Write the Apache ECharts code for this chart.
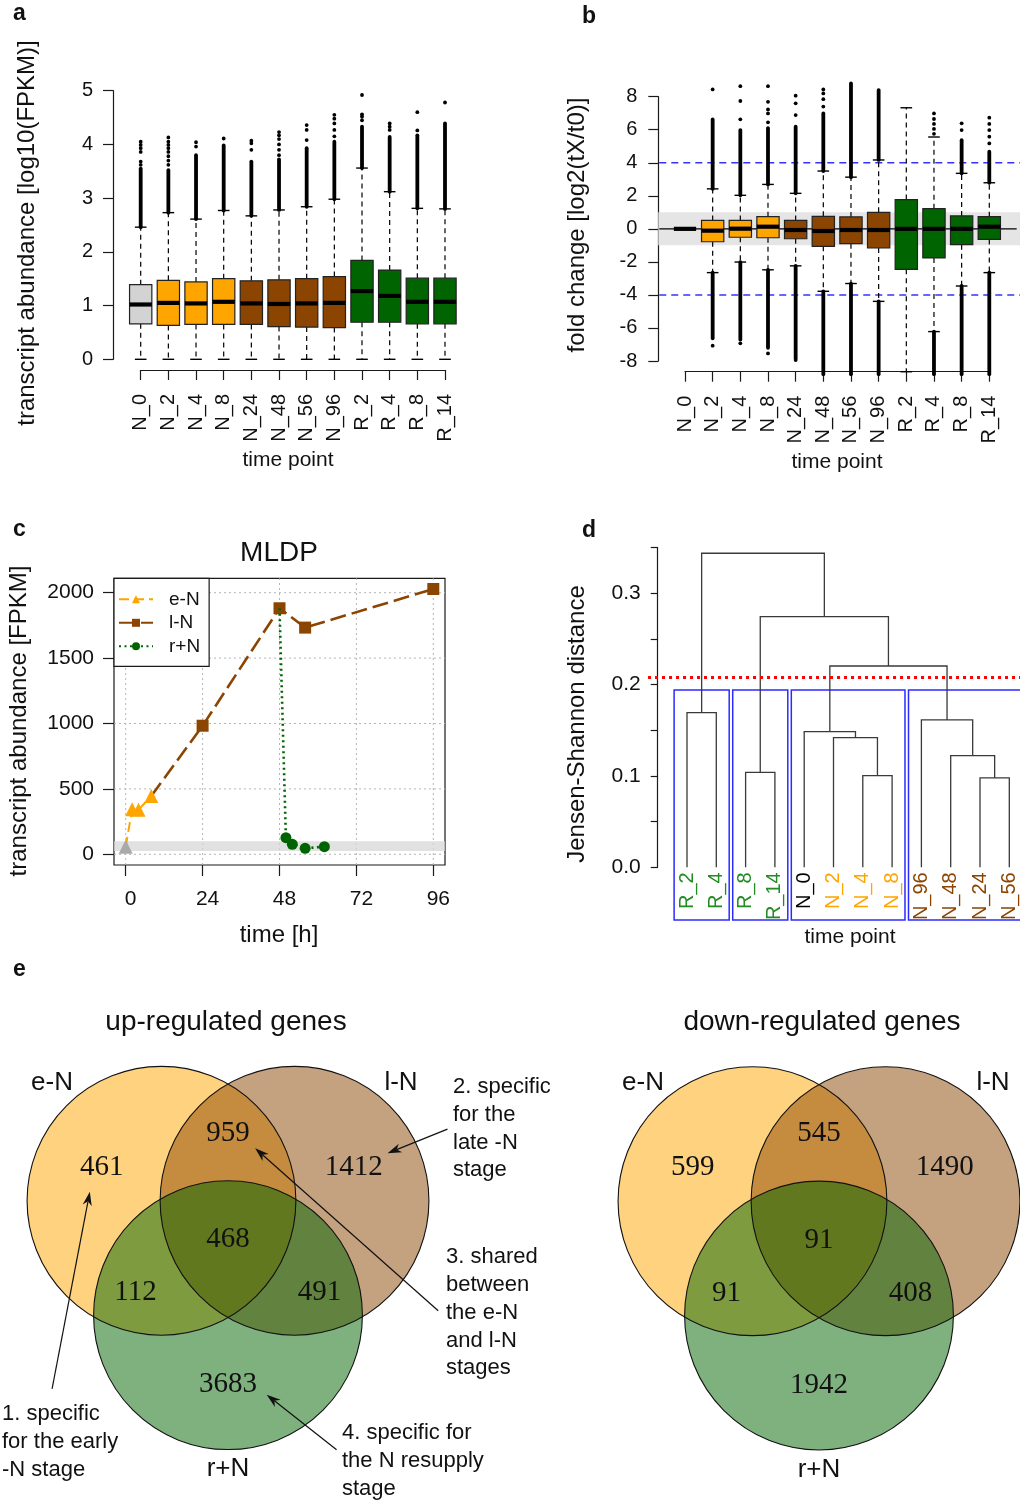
<!DOCTYPE html>
<html><head><meta charset="utf-8">
<script src="https://cdn.jsdelivr.net/npm/echarts@6/dist/echarts.min.js"></script>
<style>html,body{margin:0;padding:0;background:#fff}#c{width:1020px;height:1505px}</style>
</head><body><div id="c"></div>
<script>
// ---------------- DATA ----------------
const timePoints = ['N_0','N_2','N_4','N_8','N_24','N_48','N_56','N_96','R_2','R_4','R_8','R_14'];

// Panel a: log10(FPKM) boxes [lower whisker, Q1, median, Q3, upper whisker]
const abundanceBoxes = [
  [0, 0.66, 1.02, 1.39, 2.46],
  [0, 0.63, 1.05, 1.47, 2.73],
  [0, 0.65, 1.04, 1.44, 2.61],
  [0, 0.65, 1.07, 1.50, 2.77],
  [0, 0.65, 1.04, 1.46, 2.67],
  [0, 0.61, 1.03, 1.48, 2.78],
  [0, 0.60, 1.04, 1.50, 2.84],
  [0, 0.59, 1.05, 1.54, 2.98],
  [0, 0.69, 1.27, 1.84, 3.56],
  [0, 0.69, 1.18, 1.66, 3.12],
  [0, 0.66, 1.07, 1.51, 2.81],
  [0, 0.66, 1.07, 1.51, 2.80]
];
const abundanceDenseHigh = [[2.46,3.55],[2.73,3.52],[2.61,3.80],[2.77,3.98],[2.67,3.68],[2.78,3.72],[2.84,3.93],[2.98,4.05],[3.56,4.33],[3.12,4.14],[2.81,4.17],[2.80,4.39]];
const abundanceSparseHigh = [
  [3.62,3.68,3.86,3.93,3.99,4.05],
  [3.62,3.70,3.78,3.86,3.93,3.99,4.05,4.13],
  [3.96,4.04],
  [4.11],
  [3.90,4.02,4.07],
  [3.80,3.90,4.00,4.10,4.17,4.23],
  [4.08,4.27,4.36],
  [4.15,4.27,4.39,4.48,4.55],
  [4.45,4.52,4.56,4.92],
  [4.27,4.33,4.39],
  [4.26,4.60],
  [4.78]
];

// Panel b: log2 fold change boxes [lower whisker, Q1, median, Q3, upper whisker]
const foldBoxes = [
  [0, 0, 0, 0, 0],
  [-2.65, -0.78, -0.11, 0.51, 2.42],
  [-2.01, -0.51, 0.01, 0.51, 2.03],
  [-2.48, -0.54, 0.13, 0.74, 2.69],
  [-2.24, -0.60, -0.07, 0.51, 2.15],
  [-3.78, -1.06, -0.13, 0.76, 3.50],
  [-3.31, -0.90, -0.07, 0.72, 3.13],
  [-4.39, -1.16, -0.07, 1.00, 4.17],
  [-8.65, -2.45, 0.00, 1.77, 7.33],
  [-6.22, -1.76, 0.00, 1.22, 5.56],
  [-3.46, -0.96, 0.00, 0.78, 3.36],
  [-2.65, -0.64, 0.13, 0.74, 2.79]
];
const foldDenseHigh = [null,[2.42,6.62],[2.03,5.98],[2.69,6.10],[2.15,6.18],[3.50,6.99],[3.13,8.80],[4.17,8.40],null,null,[3.36,5.37],[2.79,4.67]];
const foldSparseHigh = [[],[8.44],[6.63,7.74,8.64],[6.45,6.99,7.23,7.69,8.64],[6.89,7.60,8.06],[7.40,7.85,8.20,8.44],[],[],[],[5.75,6.05,6.35,6.65,6.99],[5.98,6.39],[5.17,5.58,5.98,6.35,6.73]];
const foldDenseLow = [null,[-6.63,-2.65],[-6.70,-2.01],[-7.20,-2.48],[-7.84,-2.24],[-8.80,-3.78],[-8.80,-3.31],[-8.80,-4.39],null,[-8.80,-6.22],[-8.80,-3.46],[-8.80,-2.65]];
const foldSparseLow = [[],[-7.07],[-6.93],[-7.54],[-7.94],[],[],[],[],[],[],[]];
const foldBand = [-1, 1];
const foldThresholds = [-4, 4];

// Panel c: MLDP abundance [time h, FPKM]
const mldpControl = [0, 58];
const mldpEarly = [[2, 344], [4, 340], [8, 446]];
const mldpLate = [[24, 983], [48, 1881], [56, 1733], [96, 2028]];
const mldpResupply = [[50, 127], [52, 76], [56, 46], [62, 58]];
const mldpBand = [25, 100];
const mldpXTicks = [0, 24, 48, 72, 96];
const mldpYTicks = [0, 500, 1000, 1500, 2000];

// Panel d: dendrogram
const dendroLeaves = ['R_2','R_4','R_8','R_14','N_0','N_2','N_4','N_8','N_96','N_48','N_24','N_56'];
// hclust-style merges: negative = leaf position (1-based), positive = earlier merge
const dendroMerges = [
  [-7, -8, 0.1004],
  [-11, -12, 0.0978],
  [-3, -4, 0.1040],
  [-10, 2, 0.1223],
  [-6, 1, 0.1420],
  [-5, 5, 0.1485],
  [-9, 4, 0.1613],
  [-1, -2, 0.1693],
  [6, 7, 0.2204],
  [3, 9, 0.2745],
  [8, 10, 0.3438]
];
const dendroCut = 0.2077;
const dendroClusters = [[1, 2], [3, 4], [5, 8], [9, 12]];

// Panel e: Venn counts [e only, l only, r only, e&l, e&r, l&r, all]
const vennSets = ['e-N', 'l-N', 'r+N'];
const upRegulated = [461, 1412, 3683, 959, 112, 491, 468];
const downRegulated = [599, 1490, 1942, 545, 91, 408, 91];

// ---------------- STYLE / LAYOUT ----------------
const FONT = '"Liberation Sans", Arial, Helvetica, sans-serif';
const SERIF = '"Liberation Serif", "Times New Roman", serif';
const INK = '#1a1a1a';
const C_ORANGE = '#FFA500', C_BROWN = '#8B4500', C_GREEN = '#006400', C_GRAY = '#D3D3D3';
const boxFill = [C_GRAY, C_ORANGE, C_ORANGE, C_ORANGE, C_BROWN, C_BROWN, C_BROWN, C_BROWN, C_GREEN, C_GREEN, C_GREEN, C_GREEN];
const leafColor = n => n[0] === 'R' ? '#228B22' : (n === 'N_0' ? '#000' : (['N_2','N_4','N_8'].includes(n) ? C_ORANGE : C_BROWN));
const vennFill = ['rgba(255,165,0,0.5)', 'rgba(139,69,0,0.5)', 'rgba(0,100,0,0.5)'];
const VU = 134.4;
const vennLayout = {
  centers: [[-0.495, 0], [0.495, 0], [0, 0.851]],
  regions: [[-0.94, -0.25], [0.935, -0.25], [0, 1.367], [0, -0.505], [-0.688, 0.683], [0.68, 0.683], [0, 0.288]]
};
const arrowLayout = [
  [-1.309, 1.400, -1.028, -0.068],
  [1.633, -0.533, 1.187, -0.354],
  [1.564, 0.818, 0.202, -0.391],
  [0.808, 1.852, 0.288, 1.443]
];

// ---------------- HELPERS ----------------
const axLine = {color: INK, width: 1.2};
const plainNum = v => String(v);
function catXAxis(gi, offset) {
  return {gridIndex: gi, type: 'value', min: 0, max: 11, interval: 1, position: 'bottom', offset,
    axisLine: {show: true, onZero: false, lineStyle: axLine},
    axisTick: {show: true, length: 10, lineStyle: axLine},
    axisLabel: {show: true, rotate: 90, margin: 24, fontSize: 20, color: '#111', fontFamily: FONT,
      formatter: v => timePoints[Math.round(v)] || ''},
    splitLine: {show: false}};
}
function valYAxis(gi, min, max, interval, offset, extra) {
  return Object.assign({gridIndex: gi, type: 'value', min, max, interval, position: 'left', offset,
    axisLine: {show: true, onZero: false, lineStyle: axLine},
    axisTick: {show: true, length: 10, lineStyle: axLine},
    axisLabel: {show: true, margin: 20, fontSize: 20, color: '#111', fontFamily: FONT, formatter: plainNum},
    splitLine: {show: false}}, extra || {});
}

function boxSeries(gi, boxes, denseHi, sparseHi, denseLo, sparseLo) {
  return {
    type: 'custom', xAxisIndex: gi, yAxisIndex: gi, clip: false, silent: true, z: 5,
    data: boxes.map((b, i) => [i].concat(b)),
    encode: {x: 0, y: [1, 2, 3, 4, 5]},
    renderItem(params, api) {
      const i = params.dataIndex;
      const lo = api.value(1), q1 = api.value(2), med = api.value(3), q3 = api.value(4), hi = api.value(5);
      const xc = api.coord([i, 0])[0];
      const py = v => api.coord([i, v])[1];
      const unit = Math.abs(api.size([1, 0])[0]);
      const hw = unit * 0.403, cw = unit * 0.21;
      const kids = [];
      const vline = (a, b, w, dash) => ({type: 'line', shape: {x1: xc, y1: py(a), x2: xc, y2: py(b)},
        style: {stroke: '#000', lineWidth: w, lineDash: dash || null, lineCap: dash ? 'butt' : 'round'}});
      const hline = (v, half, w, col) => ({type: 'line', shape: {x1: xc - half, y1: py(v), x2: xc + half, y2: py(v)},
        style: {stroke: col || '#000', lineWidth: w}});
      [denseHi[i], denseLo[i]].forEach(d => { if (d) kids.push(vline(d[0], d[1], 3.8)); });
      [].concat(sparseHi[i] || [], sparseLo[i] || []).forEach(v => {
        kids.push({type: 'circle', shape: {cx: xc, cy: py(v), r: 1.9}, style: {fill: '#000'}});
      });
      if (hi > q3) { kids.push(vline(q3, hi, 1.2, [5, 4])); kids.push(hline(hi, cw, 1.4)); }
      if (lo < q1) { kids.push(vline(q1, lo, 1.2, [5, 4])); kids.push(hline(lo, cw, 1.4)); }
      if (q3 > q1) {
        kids.push({type: 'rect', shape: {x: xc - hw, y: py(q3), width: 2 * hw, height: py(q1) - py(q3)},
          style: {fill: boxFill[i], stroke: '#222', lineWidth: 1.2}});
      }
      kids.push(hline(med, hw, 4.2));
      return {type: 'group', children: kids};
    }
  };
}

// dendrogram node positions
const nodeX = [], nodeH = [];
function childPos(c) { return c < 0 ? [-c, 0] : [nodeX[c - 1], nodeH[c - 1]]; }
dendroMerges.forEach((m, k) => { const a = childPos(m[0]), b = childPos(m[1]); nodeX[k] = (a[0] + b[0]) / 2; nodeH[k] = m[2]; });

function vennSeries(gi, counts) {
  const fills = {
    type: 'custom', xAxisIndex: gi, yAxisIndex: gi, clip: false, silent: true, z: 2,
    data: vennLayout.centers.map(c => [c[0], c[1]]),
    renderItem(p, api) {
      const c = api.coord([api.value(0), api.value(1)]);
      const r = Math.abs(api.size([1, 1])[0]);
      return {type: 'circle', shape: {cx: c[0], cy: c[1], r}, style: {fill: vennFill[p.dataIndex]}};
    }
  };
  const outlines = {
    type: 'custom', xAxisIndex: gi, yAxisIndex: gi, clip: false, silent: true, z: 3,
    data: vennLayout.centers.map(c => [c[0], c[1]]),
    renderItem(p, api) {
      const c = api.coord([api.value(0), api.value(1)]);
      const r = Math.abs(api.size([1, 1])[0]);
      return {type: 'circle', shape: {cx: c[0], cy: c[1], r}, style: {fill: null, stroke: '#111', lineWidth: 1.1}};
    }
  };
  const nums = {
    type: 'custom', xAxisIndex: gi, yAxisIndex: gi, clip: false, silent: true, z: 4,
    data: counts.map((n, k) => [vennLayout.regions[k][0], vennLayout.regions[k][1], n]),
    renderItem(p, api) {
      const c = api.coord([api.value(0), api.value(1)]);
      return {type: 'text', x: c[0], y: c[1], style: {text: String(api.value(2)), fontFamily: SERIF, fontSize: 29,
        fill: '#111', align: 'center', verticalAlign: 'middle'}};
    }
  };
  return [fills, outlines, nums];
}

const arrowSeries = {
  type: 'custom', xAxisIndex: 4, yAxisIndex: 4, clip: false, silent: true, z: 6,
  data: arrowLayout,
  renderItem(p, api) {
    const s = api.coord([api.value(0), api.value(1)]);
    const e = api.coord([api.value(2), api.value(3)]);
    const dx = e[0] - s[0], dy = e[1] - s[1], L = Math.hypot(dx, dy);
    const ux = dx / L, uy = dy / L, nx = -uy, ny = ux;
    const hl = 14, hw = 4.6;
    const base = [e[0] - ux * hl, e[1] - uy * hl];
    const notch = [e[0] - ux * hl * 0.7, e[1] - uy * hl * 0.7];
    return {type: 'group', children: [
      {type: 'line', shape: {x1: s[0], y1: s[1], x2: notch[0], y2: notch[1]}, style: {stroke: '#111', lineWidth: 1.2}},
      {type: 'polygon', shape: {points: [e, [base[0] + nx * hw, base[1] + ny * hw], notch, [base[0] - nx * hw, base[1] - ny * hw]]},
        style: {fill: '#111'}}
    ]};
  }
};

function txt(text, x, y, size, o) {
  o = o || {};
  const style = {text, fontSize: size, fontFamily: FONT, fill: o.color || '#111', align: o.align || 'center',
    verticalAlign: o.va || 'middle', fontWeight: o.weight || 'normal'};
  if (o.lh) style.lineHeight = o.lh;
  return {type: 'text', x, y, rotation: o.rot || 0, silent: true, z: 50, style};
}
const R90 = Math.PI / 2;

// ---------------- OPTION ----------------
const option = {
  animation: false,
  backgroundColor: '#fff',
  textStyle: {fontFamily: FONT},
  grid: [
    {left: 140.7, top: 90.7, width: 304.3, height: 268.6, outerBoundsMode: 'none', containLabel: false},
    {left: 685, top: 96.7, width: 304.3, height: 264.3, outerBoundsMode: 'none', containLabel: false},
    {left: 114, top: 578.3, width: 331, height: 286.7, show: true, borderColor: INK, borderWidth: 1.2, backgroundColor: 'transparent', outerBoundsMode: 'none', containLabel: false},
    {left: 657.7, top: 547.6, width: 380.9, height: 319.7, outerBoundsMode: 'none', containLabel: false},
    {left: 228 - 1.6 * VU, top: 1200.8 - 1.45 * VU, width: 3.2 * VU, height: 3.6 * VU, outerBoundsMode: 'none', containLabel: false},
    {left: 819 - 1.6 * VU, top: 1201.2 - 1.45 * VU, width: 3.2 * VU, height: 3.6 * VU, outerBoundsMode: 'none', containLabel: false}
  ],
  xAxis: [
    catXAxis(0, 10.7),
    catXAxis(1, 10.7),
    {gridIndex: 2, type: 'value', min: -3.652, max: 99.65, position: 'bottom',
      axisLine: {show: false, onZero: false},
      axisTick: {show: true, length: 11, customValues: mldpXTicks, lineStyle: axLine},
      axisLabel: {show: true, customValues: mldpXTicks, margin: 24, fontSize: 21, color: '#111', fontFamily: FONT, padding: [0, 0, 0, 10], formatter: plainNum},
      splitLine: {show: false}},
    {gridIndex: 3, type: 'value', min: 0, max: 13, show: false},
    {gridIndex: 4, type: 'value', min: -1.6, max: 1.6, show: false},
    {gridIndex: 5, type: 'value', min: -1.6, max: 1.6, show: false}
  ],
  yAxis: [
    valYAxis(0, 0, 5, 1, 27.7),
    valYAxis(1, -8, 8, 2, 26.7, {axisLabel: {show: true, margin: 21, fontSize: 20, color: '#111', fontFamily: FONT, formatter: plainNum}}),
    {gridIndex: 2, type: 'value', min: -81.8, max: 2110, position: 'left',
      axisLine: {show: false, onZero: false},
      axisTick: {show: true, length: 11, customValues: mldpYTicks, lineStyle: axLine},
      axisLabel: {show: true, customValues: mldpYTicks, margin: 20, fontSize: 21, color: '#111', fontFamily: FONT, formatter: plainNum},
      splitLine: {show: false}},
    valYAxis(3, 0, 0.35, 0.05, 0, {
      axisTick: {show: true, length: 7, lineStyle: axLine},
      axisLabel: {show: true, margin: 17, fontSize: 21, color: '#111', fontFamily: FONT,
        formatter: v => Math.abs(v * 10 - Math.round(v * 10)) < 1e-6 ? v.toFixed(1) : ''}}),
    {gridIndex: 4, type: 'value', min: -1.45, max: 2.15, inverse: true, show: false},
    {gridIndex: 5, type: 'value', min: -1.45, max: 2.15, inverse: true, show: false}
  ],
  legend: {
    data: ['e-N', 'l-N', 'r+N'], orient: 'vertical', left: 114, top: 578.3, align: 'left',
    backgroundColor: '#fff', borderColor: INK, borderWidth: 1.2, borderRadius: 0,
    padding: [11, 9, 10, 4], itemGap: 3.5, itemWidth: 34, itemHeight: 10, selectedMode: false,
    textStyle: {fontSize: 19, color: '#111', fontFamily: FONT, lineHeight: 20, padding: [0, 0, 0, 11]}
  },
  series: [
    // panel a
    boxSeries(0, abundanceBoxes, abundanceDenseHigh, abundanceSparseHigh, abundanceBoxes.map(() => null), abundanceBoxes.map(() => [])),
    // panel b reference band and lines
    {
      type: 'custom', xAxisIndex: 1, yAxisIndex: 1, clip: false, silent: true, z: 1,
      data: [[foldBand[0], foldBand[1], foldThresholds[0], foldThresholds[1]]],
      renderItem(p, api) {
        const xl = -0.965, xr = 12.2;
        const a = api.coord([xl, api.value(1)]), b = api.coord([xr, api.value(0)]);
        const z0 = api.coord([-0.93, 0]), z1 = api.coord([11.99, 0]);
        const kids = [{type: 'rect', shape: {x: a[0], y: a[1], width: b[0] - a[0], height: b[1] - a[1]}, style: {fill: '#E5E5E5'}}];
        [api.value(2), api.value(3)].forEach(t => {
          const s = api.coord([-0.93, t]), e = api.coord([xr, t]);
          kids.push({type: 'line', shape: {x1: s[0], y1: s[1], x2: e[0], y2: e[1]}, style: {stroke: '#3333FF', lineWidth: 1.5, lineDash: [7, 5]}});
        });
        kids.push({type: 'line', shape: {x1: z0[0], y1: z0[1], x2: z1[0], y2: z1[1]}, style: {stroke: '#000', lineWidth: 1.3}});
        return {type: 'group', children: kids};
      }
    },
    boxSeries(1, foldBoxes, foldDenseHigh, foldSparseHigh, foldDenseLow, foldSparseLow),
    // panel c grid lines + band
    {
      type: 'custom', xAxisIndex: 2, yAxisIndex: 2, clip: false, silent: true, z: 1,
      data: [[mldpBand[0], mldpBand[1]]],
      renderItem(p, api) {
        const xl = -3.652, xr = 99.65, yb = -81.8, yt = 2110;
        const kids = [];
        const a = api.coord([xl, api.value(1)]), b = api.coord([xr, api.value(0)]);
        mldpXTicks.forEach(t => {
          const s = api.coord([t, yb]), e = api.coord([t, yt]);
          kids.push({type: 'line', shape: {x1: s[0], y1: s[1], x2: e[0], y2: e[1]}, style: {stroke: '#B5B5B5', lineWidth: 1, lineDash: [2, 3]}});
        });
        mldpYTicks.forEach(t => {
          const s = api.coord([xl, t]), e = api.coord([xr, t]);
          kids.push({type: 'line', shape: {x1: s[0], y1: s[1], x2: e[0], y2: e[1]}, style: {stroke: '#B5B5B5', lineWidth: 1, lineDash: [2, 3]}});
        });
        kids.push({type: 'rect', shape: {x: a[0], y: a[1], width: b[0] - a[0], height: b[1] - a[1]}, style: {fill: 'rgba(215,215,215,0.75)'}});
        return {type: 'group', children: kids};
      }
    },
    {
      name: 'e-N', type: 'line', xAxisIndex: 2, yAxisIndex: 2, z: 3, silent: true,
      symbol: 'triangle', symbolSize: 14, showAllSymbol: true,
      itemStyle: {color: C_ORANGE}, lineStyle: {color: C_ORANGE, width: 2, type: [10, 5]},
      data: [{value: mldpControl, itemStyle: {color: '#A9A9A9'}}].concat(mldpEarly)
    },
    {
      name: 'l-N', type: 'line', xAxisIndex: 2, yAxisIndex: 2, z: 3, silent: true,
      symbol: 'rect', symbolSize: 12, showAllSymbol: true,
      itemStyle: {color: C_BROWN}, lineStyle: {color: C_BROWN, width: 2.6, type: [16, 6]},
      data: [{value: mldpEarly[mldpEarly.length - 1], symbol: 'none'}].concat(mldpLate)
    },
    {
      name: 'r+N', type: 'line', xAxisIndex: 2, yAxisIndex: 2, z: 4, silent: true,
      symbol: 'circle', symbolSize: 11, showAllSymbol: true,
      itemStyle: {color: C_GREEN}, lineStyle: {color: C_GREEN, width: 2.6, type: [2, 3.5]},
      data: [{value: mldpLate[1], symbol: 'none'}].concat(mldpResupply)
    },
    // panel d: cluster boxes and cut line
    {
      type: 'custom', xAxisIndex: 3, yAxisIndex: 3, clip: false, silent: true, z: 2,
      data: dendroClusters,
      renderItem(p, api) {
        const a = api.coord([api.value(0) - 0.44, 0.194]), b = api.coord([api.value(1) + 0.44, -0.0577]);
        return {type: 'rect', shape: {x: a[0], y: a[1], width: b[0] - a[0], height: b[1] - a[1]},
          style: {fill: null, stroke: '#2B2BFF', lineWidth: 1.5}};
      }
    },
    {
      type: 'custom', xAxisIndex: 3, yAxisIndex: 3, clip: false, silent: true, z: 4,
      data: [[dendroCut]],
      renderItem(p, api) {
        const s = api.coord([-0.33, api.value(0)]), e = api.coord([12.6, api.value(0)]);
        return {type: 'line', shape: {x1: s[0], y1: s[1], x2: e[0], y2: e[1]}, style: {stroke: '#FF0000', lineWidth: 3, lineDash: [3, 4]}};
      }
    },
    {
      type: 'custom', xAxisIndex: 3, yAxisIndex: 3, clip: false, silent: true, z: 3,
      data: dendroMerges.map((m, k) => [nodeX[k], m[2]]),
      renderItem(p, api) {
        const m = dendroMerges[p.dataIndex];
        const a = childPos(m[0]), b = childPos(m[1]), H = api.value(1);
        const pts = [api.coord([a[0], a[1]]), api.coord([a[0], H]), api.coord([b[0], H]), api.coord([b[0], b[1]])];
        return {type: 'polyline', shape: {points: pts}, style: {stroke: '#3a3a3a', lineWidth: 1.3, fill: null}};
      }
    },
    {
      type: 'custom', xAxisIndex: 3, yAxisIndex: 3, clip: false, silent: true, z: 3,
      data: dendroLeaves.map((l, i) => [i + 1, 0]),
      renderItem(p, api) {
        const c = api.coord([api.value(0), api.value(1)]);
        const name = dendroLeaves[p.dataIndex];
        return {type: 'text', x: c[0], y: c[1] + 5, rotation: R90,
          style: {text: name, fill: leafColor(name), fontSize: 20, fontFamily: FONT, align: 'right', verticalAlign: 'middle'}};
      }
    }
  ].concat(vennSeries(4, upRegulated), vennSeries(5, downRegulated), [arrowSeries]),
  graphic: {elements: [
    txt('a', 13, 25, 23, {align: 'left', va: 'bottom', weight: 'bold'}),
    txt('b', 582, 28, 23, {align: 'left', va: 'bottom', weight: 'bold'}),
    txt('c', 13, 541, 23, {align: 'left', va: 'bottom', weight: 'bold'}),
    txt('d', 582, 542, 23, {align: 'left', va: 'bottom', weight: 'bold'}),
    txt('e', 13, 981, 23, {align: 'left', va: 'bottom', weight: 'bold'}),
    txt('transcript abundance [log10(FPKM)]', 27, 233, 24, {rot: R90}),
    txt('time point', 288, 460, 21),
    txt('fold change [log2(tX/t0)]', 577, 225, 24, {rot: R90}),
    txt('time point', 837, 462, 21),
    txt('MLDP', 279, 553, 28),
    txt('transcript abundance [FPKM]', 19, 721, 24, {rot: R90}),
    txt('time [h]', 279, 935, 24),
    txt('Jensen-Shannon distance', 577, 724, 24, {rot: R90}),
    txt('time point', 850, 937, 21),
    txt('up-regulated genes', 226, 1022, 28),
    txt('down-regulated genes', 822, 1022, 28),
    txt(vennSets[0], 52, 1083, 26), txt(vennSets[1], 401, 1083, 26), txt(vennSets[2], 228, 1469, 26),
    txt(vennSets[0], 643, 1083, 26), txt(vennSets[1], 993, 1083, 26), txt(vennSets[2], 819, 1470, 26),
    txt('1. specific\nfor the early\n-N stage', 2, 1399.5, 22, {align: 'left', va: 'top', lh: 28}),
    txt('2. specific\nfor the\nlate -N\nstage', 453, 1073, 22, {align: 'left', va: 'top', lh: 27.8}),
    txt('3. shared\nbetween\nthe e-N\nand l-N\nstages', 446, 1243.3, 22, {align: 'left', va: 'top', lh: 27.8}),
    txt('4. specific for\nthe N resupply\nstage', 342, 1418.8, 22, {align: 'left', va: 'top', lh: 28})
  ]}
};

const chart = echarts.init(document.getElementById('c'), null, {renderer: 'canvas', width: 1020, height: 1505});
chart.setOption(option);
</script></body></html>
